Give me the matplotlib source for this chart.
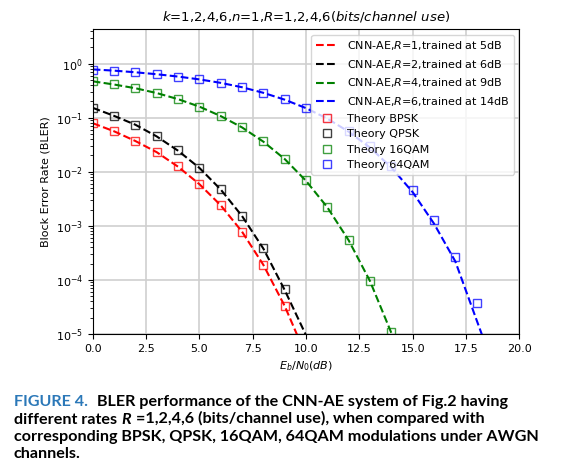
import matplotlib
matplotlib.use('Agg')
import matplotlib.pyplot as plt

# Eb/N0 grid (dB)
EBN0 = list(range(0, 21))

# theory BLER
BPSK_THEORY = [0.0786, 0.0563, 0.0375, 0.0229, 0.0125, 0.00595, 0.00239,
               0.000773, 0.000191, 3.36e-5]
QPSK_THEORY = [0.151, 0.109, 0.0736, 0.0453, 0.0248, 0.0119, 0.00477,
               0.00155, 0.000382, 6.7e-5]
QAM16_THEORY = [0.479, 0.417, 0.352, 0.286, 0.221, 0.160, 0.108, 0.0668,
                0.0366, 0.0175, 0.0070, 0.00225, 0.000554, 9.7e-5, 1.1e-5]
QAM64_THEORY = [0.769, 0.730, 0.685, 0.633, 0.574, 0.509, 0.438, 0.364,
                0.289, 0.218, 0.153, 0.0987, 0.0575, 0.0295, 0.0129,
                0.00463, 0.0013, 0.00027, 3.8e-5]

# CNN-AE BLER (dashed curves)
CNN_R1 = [0.079, 0.056, 0.037, 0.023, 0.0124, 0.0059, 0.0024, 0.00078,
          0.00019, 3.3e-5, 4e-6]
CNN_R2 = [0.152, 0.108, 0.074, 0.045, 0.0245, 0.0118, 0.0047, 0.00152,
          0.00038, 6.5e-5, 9.5e-6]
CNN_R4 = [0.47, 0.41, 0.35, 0.285, 0.22, 0.16, 0.107, 0.066, 0.036, 0.0172,
          0.0068, 0.0022, 0.00054, 9.5e-5, 1.05e-5, 8e-7]
CNN_R6 = [0.78, 0.74, 0.69, 0.635, 0.575, 0.51, 0.44, 0.365, 0.288, 0.215,
          0.15, 0.096, 0.055, 0.028, 0.012, 0.0042, 0.0011, 2.2e-4, 1.8e-5,
          1.5e-6]

CNN_LABELS = [r'CNN-AE,$R$=1,trained at 5dB', r'CNN-AE,$R$=2,trained at 6dB',
              r'CNN-AE,$R$=4,trained at 9dB', r'CNN-AE,$R$=6,trained at 14dB']
THEORY_LABELS = ['Theory BPSK', 'Theory QPSK', 'Theory 16QAM', 'Theory 64QAM']
COLORS = ['red', 'black', 'green', 'blue']

W, H = 564, 472
fig = plt.figure(figsize=(W / 100, H / 100), dpi=100)
ax = fig.add_axes([92.7 / W, 1 - 334 / H, (519.3 - 92.7) / W, (334 - 29.3) / H])

for ys, lab, col in zip([CNN_R1, CNN_R2, CNN_R4, CNN_R6], CNN_LABELS, COLORS):
    ax.semilogy(EBN0[:len(ys)], ys, '--', color=col, lw=1.5, label=lab)

for ys, lab, col in zip([BPSK_THEORY, QPSK_THEORY, QAM16_THEORY, QAM64_THEORY],
                        THEORY_LABELS, COLORS):
    ax.semilogy(EBN0[:len(ys)], ys, 's', color=col, mfc='none', ms=5.3,
                mew=1.0, alpha=0.75, label=lab)

ax.set_xlim(0, 20)
ax.set_ylim(1e-5, 4.3)
ax.grid(True, which='major', color='#cfcfcf', lw=1.2)
ax.tick_params(labelsize=8)
ax.set_xlabel(r'$E_b/N_0(dB)$', fontsize=8)
ax.set_ylabel('Block Error Rate (BLER)', fontsize=8)
ax.set_title(r'$k$=1,2,4,6,$n$=1,$R$=1,2,4,6($bits/channel\ use$)', fontsize=9.5)
ax.legend(loc='upper right', fontsize=8.0)

# figure caption below the chart
renderer = fig.canvas.get_renderer()
CAPTION = [
    [('FIGURE 4.', '#2b78b8', 'normal'),
     ('BLER performance of the CNN-AE system of Fig.2 having', 'black', 'normal')],
    [('different rates', 'black', 'normal'), ('R', 'black', 'italic'),
     ('=1,2,4,6 (bits/channel use), when compared with', 'black', 'normal')],
    [('corresponding BPSK, QPSK, 16QAM, 64QAM modulations under AWGN', 'black', 'normal')],
    [('channels.', 'black', 'normal')],
]
BASELINES = [406, 423.5, 440.5, 457.5]
for line, yb in zip(CAPTION, BASELINES):
    x = 14
    for i, (txt, col, style) in enumerate(line):
        t = fig.text(x / W, 1 - yb / H, txt, color=col, fontsize=11.6,
                     fontweight='bold', fontstyle=style, family='Lato',
                     va='baseline', ha='left')
        bb = t.get_window_extent(renderer)
        x = bb.x1 + (9 if col != 'black' else 4.5)

fig.savefig('out.png', dpi=100)
